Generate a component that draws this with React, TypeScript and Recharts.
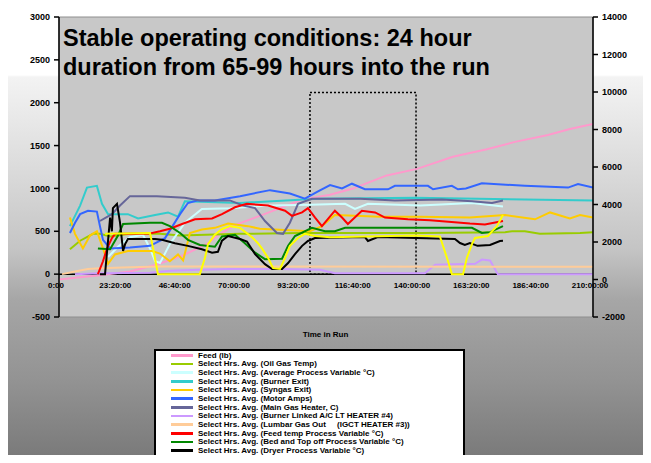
import React from 'react';
import {
  ComposedChart,
  Line,
  XAxis,
  YAxis,
  CartesianGrid,
  ReferenceLine,
  ReferenceArea,
} from 'recharts';

type Pt = [number, number];

// time in hours, value
const feed: Pt[] = [
  [0, 0], [14.9, 210], [27.9, 430], [38.5, 800], [47.6, 1220], [58.2, 1900], [63, 2400],
  [69.2, 2900], [81, 3500], [95.6, 4260], [106.6, 4520], [115.6, 4850], [128.9, 5550],
  [140.8, 5900], [154.9, 6550], [168.3, 6950], [179.3, 7340], [192.3, 7710], [200.9, 8030], [210, 8300],
];
const oilGas: Pt[] = [
  [4.3, 290], [8.3, 390], [13.4, 470], [16.1, 470], [20.1, 440], [27.9, 470], [39.7, 470],
  [47.6, 450], [71.2, 470], [94.8, 480], [142, 480], [175.4, 490], [178.2, 500], [183.2, 500],
  [189.1, 470], [204.9, 480], [210, 490],
];
const avgProcess: Pt[] = [
  [19.3, 200], [23.2, 320], [27.9, 430], [33, 460], [35.8, 300], [37.8, 150], [39.7, 130],
  [43.6, 350], [49.5, 600], [56.2, 760], [67.2, 770], [83, 800], [98.7, 810], [112.5, 820],
  [116.4, 760], [121.5, 820], [142, 800], [162.4, 830], [174.6, 790],
];
const burnerExit: Pt[] = [
  [4.3, 560], [8.3, 800], [11, 1010], [14.9, 1030], [16.9, 820], [19.3, 700], [27.1, 700],
  [31.1, 650], [37.8, 690], [42.9, 720], [46.8, 670], [49.5, 850], [71.2, 830], [101.8, 880],
  [140, 890], [210, 860],
];
const syngasExit: Pt[] = [
  [4.3, 660], [6.3, 470], [9.4, 300], [12.2, 450], [14.9, 500], [17.3, 300], [19.3, 120],
  [22, 230], [27.1, 270], [36.6, 270], [39.7, 240], [43.6, 150], [46.8, 230], [48.8, 160],
  [51.5, 480], [56.2, 520], [61.3, 540], [66.5, 590], [74.3, 560], [79, 530], [92.8, 510],
  [98.7, 500], [103.4, 560], [108.5, 690], [116.4, 680], [126.2, 670], [142, 670], [161.6, 660],
  [175.4, 690], [187.2, 640], [193.1, 720], [200.9, 650], [204.9, 690], [210, 660],
];
const motorAmps: Pt[] = [
  [4.3, 480], [6.3, 600], [8.3, 700], [11.4, 740], [14.9, 730], [16.1, 560], [17.3, 400],
  [20.1, 300], [27.9, 310], [35.8, 330], [41.7, 420], [47.6, 700], [50.7, 830], [54.3, 860],
  [61.3, 860], [71.2, 910], [83, 980], [90.8, 940], [96.7, 880], [101.5, 960], [106.6, 1040],
  [111.3, 1000], [115.2, 1055], [120.3, 990], [129.4, 990], [132.1, 1030], [145.1, 1030],
  [147.1, 990], [154.5, 1030], [156.9, 990], [160, 1000], [166.3, 1060], [183.2, 1030],
  [200.2, 1010], [204.1, 1050], [210, 1010],
];
const mainGasHeater: Pt[] = [
  [16.1, 620], [20.8, 700], [24, 800], [27.9, 910], [38.5, 910], [49.5, 890], [55.4, 860],
  [67.2, 860], [72.4, 800], [77.1, 770], [81, 620], [85.7, 480], [88.1, 470], [90.8, 600],
  [94, 820], [99.5, 880], [118.4, 880], [132.1, 860], [150.6, 870], [162.4, 850], [170.3, 830],
  [174.6, 860],
];
const burnerLinked: Pt[] = [
  [6.3, 0], [16.1, 10], [35.8, 15], [43.6, 40], [55.4, 50], [67.2, 60], [86.9, 60], [102.6, 50],
  [108.5, 10], [143.9, 10], [147.9, 110], [163.6, 120], [166.3, 170], [169.5, 160], [172.6, 0],
  [210, 0],
];
const lumbarGas: Pt[] = [
  [1.2, 0], [6.3, 30], [11.4, 60], [16.1, 70], [27.9, 80], [39.7, 90], [210, 85],
];
const feedTemp: Pt[] = [
  [15.3, 0], [17.3, 150], [18.9, 300], [20.8, 420], [22, 470], [35, 470], [39.7, 500],
  [43.6, 530], [48.4, 585], [53.5, 640], [60.2, 650], [64.1, 700], [69.2, 780], [73.9, 820],
  [82.2, 800], [88.9, 740], [91.6, 680], [95.6, 720], [97.9, 770], [100.7, 660], [103.4, 560],
  [108.5, 740], [111.3, 660], [113.6, 585], [119.1, 740], [124.3, 720], [128.2, 660],
  [137.2, 640], [145.9, 630], [161.6, 590], [167.5, 580], [174.6, 620],
];
const bedTop: Pt[] = [
  [15.3, 300], [20.1, 290], [23.2, 450], [25.2, 585], [35.8, 600], [40.5, 600], [43.6, 560],
  [47.6, 480], [50.7, 400], [55.4, 340], [61.3, 320], [64.1, 440], [69.2, 460], [73.1, 360],
  [77.1, 250], [81, 175], [87.7, 180], [90.1, 330], [92.8, 445], [99.5, 540], [104.6, 500],
  [108.5, 500], [112.5, 540], [162.4, 540], [166.3, 480], [169.5, 490], [174.6, 560],
];
const dryer: Pt[] = [
  [16.1, 0], [18.1, 0], [20.1, 660], [20.8, 500], [21.2, 770], [22.8, 820], [24, 600],
  [25.2, 270], [26, 350], [27.1, 410], [37.8, 410], [40.5, 400], [45.6, 360], [50.7, 330],
  [56.2, 290], [60.2, 250], [62.5, 260], [64.1, 390], [66.5, 445], [71.2, 410], [73.9, 380],
  [77.1, 234], [81, 117], [83.8, 59], [87.7, 59], [90.1, 129], [92.8, 234], [95.6, 330],
  [97.9, 387], [100.7, 422], [120.3, 433], [121.5, 387], [125.4, 433], [155.7, 410],
  [157.7, 363], [159.6, 340], [161.6, 363], [164.6, 330], [169.5, 340], [173.4, 387], [174.6, 390],
];
const flare: Pt[] = [
  [18.1, 470], [35.8, 480], [37, 300], [38.9, 0], [55.4, 0], [57.4, 190], [58.6, 350],
  [61.3, 460], [64.1, 527], [67.2, 560], [71.2, 540], [75.9, 430], [78.3, 360], [79.8, 300],
  [82.2, 190], [84.2, 70], [86.9, 60], [88.9, 190], [90.8, 330], [94, 422], [96.7, 470],
  [100.7, 445], [106.6, 430], [140, 450], [149.8, 440], [153, 150], [154.5, 0], [158.9, 0],
  [160.4, 190], [162.4, 350], [163.6, 422], [168.7, 445], [170.3, 500], [172.2, 560], [174.6, 690],
];

const tickHours = [0, 23.33, 46.67, 70, 93.33, 116.67, 140, 163.33, 186.67, 210];
const tickLabels = [
  '0:00', '23:20:00', '46:40:00', '70:00:00', '93:20:00',
  '116:40:00', '140:00:00', '163:20:00', '186:40:00', '210:00:00',
];
const leftTicks = [-500, 0, 500, 1000, 1500, 2000, 2500, 3000];
const rightTicks = [-2000, 0, 2000, 4000, 6000, 8000, 10000, 12000, 14000];

const series = [
  { name: 'Feed (lb)', color: '#ff99cc', pts: feed, axis: 'right' },
  { name: 'Select Hrs. Avg. (Oil Gas Temp)', color: '#99cc00', pts: oilGas, axis: 'left' },
  { name: 'Select Hrs. Avg. (Average Process Variable °C)', color: '#ccffff', pts: avgProcess, axis: 'left' },
  { name: 'Select Hrs. Avg. (Burner Exit)', color: '#33cccc', pts: burnerExit, axis: 'left' },
  { name: 'Select Hrs. Avg. (Syngas Exit)', color: '#ffcc00', pts: syngasExit, axis: 'left' },
  { name: 'Select Hrs. Avg. (Motor Amps)', color: '#3366ff', pts: motorAmps, axis: 'left' },
  { name: 'Select Hrs. Avg. (Main Gas Heater, C)', color: '#666699', pts: mainGasHeater, axis: 'left' },
  { name: 'Select Hrs. Avg. (Burner Linked A/C LT HEATER #4)', color: '#cc99ff', pts: burnerLinked, axis: 'left' },
  { name: 'Select Hrs. Avg. (Lumbar Gas Out     (IGCT HEATER #3))', color: '#ffcc99', pts: lumbarGas, axis: 'left' },
  { name: 'Select Hrs. Avg. (Feed temp Process Variable °C)', color: '#ff0000', pts: feedTemp, axis: 'left' },
  { name: 'Select Hrs. Avg. (Bed and Top off Process Variable °C)', color: '#008800', pts: bedTop, axis: 'left' },
  { name: 'Select Hrs. Avg. (Dryer Process Variable °C)', color: '#000000', pts: dryer, axis: 'left' },
  { name: 'Select Hrs. Avg. (Flare (LPG) Temp > Sell)', color: '#ffff00', pts: flare, axis: 'left' },
];

const W = 643;
const H = 455;
const PLOT_H = 300;
const LEFT_MIN = -500;
const LEFT_MAX = 3000;
const FONT = '"Liberation Sans", Arial, sans-serif';
// x labels sit just under the zero line, not at the bottom of the plot
const ZERO_DY = 14 - (PLOT_H * (0 - LEFT_MIN)) / (LEFT_MAX - LEFT_MIN);

const TimeTick = (props: any) => {
  const { x, y, index } = props;
  return (
    <text x={x - 3} y={y + ZERO_DY} textAnchor="middle" fontSize={8} fontWeight="bold" fontFamily={FONT} fill="#000">
      {tickLabels[index]}
    </text>
  );
};

const axisTick = { fontSize: 9, fontWeight: 'bold', fill: '#000', fontFamily: FONT };

export default function App() {
  return (
    <div
      style={{
        position: 'relative',
        width: W,
        height: H,
        marginBottom: -8,
        overflow: 'hidden',
        fontFamily: FONT,
        background:
          'linear-gradient(to bottom, #ffffff 0px, #ffffff 67px, #f3f3f3 69px, #e8e8e8 112px, #d8d8d8 172px, #c4c4c4 242px, #a6a6a6 292px, #939393 372px, #787878 455px)',
      }}
    >
      <ComposedChart width={W} height={H} margin={{ top: 9, right: 13, left: 11, bottom: 126 }}>
        <CartesianGrid horizontal={false} vertical={false} fill="#c8c8c8" />
        <ReferenceArea yAxisId="left" x1={0} x2={210} y1={LEFT_MIN} y2={LEFT_MAX} fill="none" stroke="#8e8e8e" />
        <XAxis
          type="number"
          dataKey="h"
          domain={[0, 210]}
          ticks={tickHours}
          interval={0}
          tick={<TimeTick />}
          tickSize={0}
          tickMargin={0}
          axisLine={false}
          tickLine={false}
          height={20}
          allowDataOverflow
        />
        <YAxis
          yAxisId="left"
          domain={[LEFT_MIN, LEFT_MAX]}
          ticks={leftTicks}
          interval={0}
          width={40}
          tick={axisTick}
          tickSize={5}
          tickMargin={4}
          axisLine={{ stroke: '#000', strokeWidth: 1.5 }}
          tickLine={{ stroke: '#000', strokeWidth: 1.5 }}
          allowDataOverflow
        />
        <YAxis
          yAxisId="right"
          orientation="right"
          domain={[-2000, 14000]}
          ticks={rightTicks}
          interval={0}
          width={45}
          tick={axisTick}
          tickSize={5}
          tickMargin={4}
          axisLine={{ stroke: '#000', strokeWidth: 1.5 }}
          tickLine={{ stroke: '#000', strokeWidth: 1.5 }}
          allowDataOverflow
        />
        <ReferenceLine yAxisId="left" y={0} stroke="#000" strokeWidth={1.5} />
        <ReferenceArea
          yAxisId="left"
          x1={98.7}
          x2={140.4}
          y1={0}
          y2={2120}
          fill="none"
          stroke="#000"
          strokeWidth={1.5}
          strokeDasharray="2 2"
        />
        {series.map((s) => (
          <Line
            key={s.name}
            yAxisId={s.axis}
            data={s.pts.map(([h, v]) => ({ h, v }))}
            dataKey="v"
            name={s.name}
            type="linear"
            stroke={s.color}
            strokeWidth={2}
            dot={false}
            activeDot={false}
            isAnimationActive={false}
          />
        ))}
      </ComposedChart>

      <div
        style={{
          position: 'absolute',
          left: 55,
          top: 16,
          fontSize: 23.5,
          lineHeight: '29px',
          fontWeight: 'bold',
          color: '#000',
          whiteSpace: 'nowrap',
        }}
      >
        Stable operating conditions: 24 hour
        <br />
        duration from 65-99 hours into the run
      </div>

      <div
        style={{
          position: 'absolute',
          left: 280,
          width: 75,
          top: 322,
          textAlign: 'center',
          fontSize: 8,
          fontWeight: 'bold',
          color: '#000',
        }}
      >
        Time in Run
      </div>

      <div
        style={{
          position: 'absolute',
          left: 146,
          top: 341,
          width: 307,
          height: 140,
          background: '#fff',
          border: '2px solid #000',
        }}
      >
        {series.map((s, i) => (
          <div key={s.name} style={{ position: 'absolute', top: 4 + i * 8.67 - 4.5, left: 0, height: 9, width: 300 }}>
            <div style={{ position: 'absolute', left: 15, top: 3.5, width: 22, height: 2.5, background: s.color }} />
            <div
              style={{
                position: 'absolute',
                left: 42,
                top: 0,
                fontSize: 8,
                lineHeight: '9px',
                fontWeight: 'bold',
                color: '#000',
                whiteSpace: 'pre',
              }}
            >
              {s.name}
            </div>
          </div>
        ))}
      </div>
    </div>
  );
}
